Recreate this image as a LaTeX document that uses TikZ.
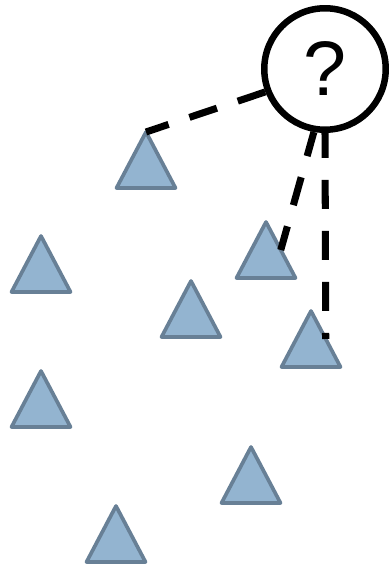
\documentclass[tikz,border=0pt]{standalone}
\usepackage{fontspec}
\setmainfont{Liberation Sans}
\usetikzlibrary{shapes.geometric}
\definecolor{sensorfill}{RGB}{147,180,208}
\definecolor{sensoredge}{RGB}{104,128,150}
\begin{document}
\begin{tikzpicture}[
        x=0.02cm, y=-0.02cm,
        sensor/.style={isosceles triangle, shape border rotate=90, isosceles triangle stretches, draw=sensoredge, fill=sensorfill, line width=2.1pt, line join=round, inner sep=0pt, outer sep=0pt, minimum width=1.18cm, minimum height=1.12cm, anchor=apex},
        unknown/.style={circle, draw=black, line width=3.7pt, minimum size=2.43cm, inner sep=0pt, font=\fontsize{44}{44}\selectfont},
        link/.style={line width=4pt, dash pattern=on 0.58cm off 0.44cm}
        ]
        \useasboundingbox (0,0) rectangle (388,570);

        % The scattered sensors
        \node[sensor] (t1) at (146,132) {};
        \node[sensor] (t2) at (41,236) {};
        \node[sensor] (t3) at (266,222) {};
        \node[sensor] (t4) at (191,281) {};
        \node[sensor] (t5) at (311,311) {};
        \node[sensor] (t6) at (41,371) {};
        \node[sensor] (t7) at (251,447) {};
        \node[sensor] (t8) at (116,506) {};

        % The unknown node
        \node[unknown] (q) at (325,69) {?};

        % Dashed links to the nearest sensors
        \draw[link] (q.201) -- (t1.apex);
        \draw[link, dash phase=0.08cm] (q.260) -- (t3.right side);
        \draw[link, dash phase=0.08cm] (q.south) -- (t5.right side);

    \end{tikzpicture}
\end{document}
